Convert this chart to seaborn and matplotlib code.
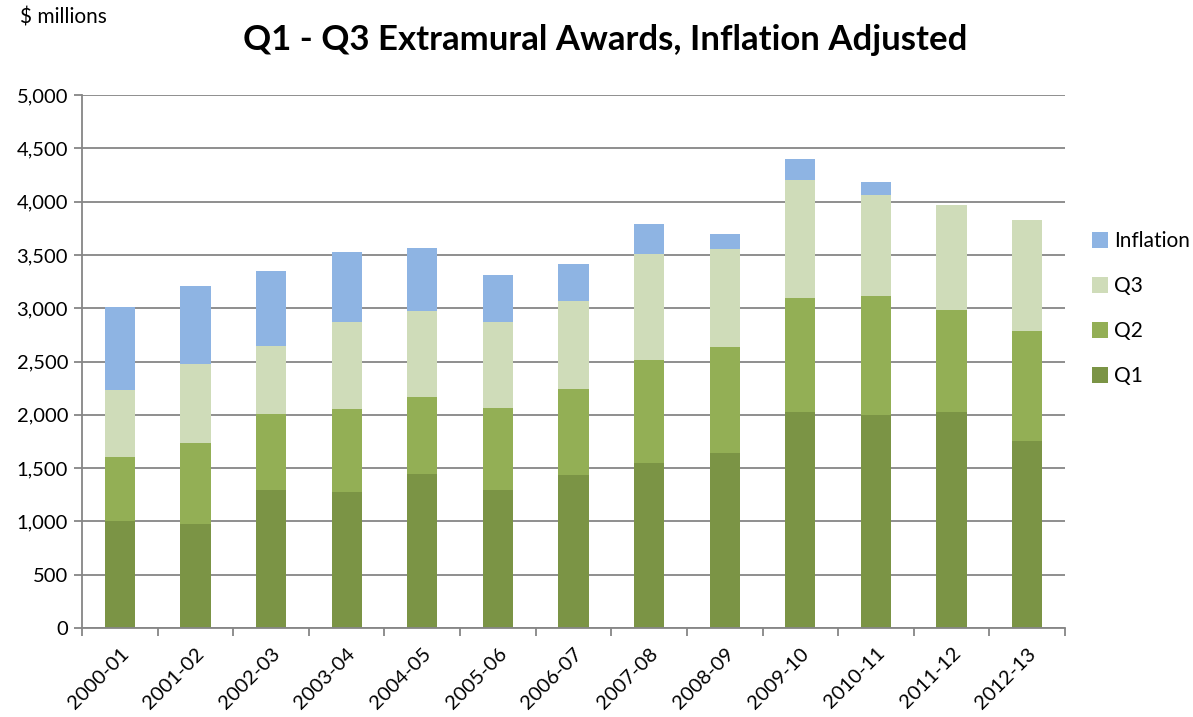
import matplotlib
matplotlib.use("Agg")
import matplotlib.pyplot as plt
import seaborn as sns
import pandas as pd
import numpy as np
from matplotlib.patches import Patch
from matplotlib.ticker import FuncFormatter, MultipleLocator

years = ["2000-01", "2001-02", "2002-03", "2003-04", "2004-05", "2005-06", "2006-07",
         "2007-08", "2008-09", "2009-10", "2010-11", "2011-12", "2012-13"]
q1 = [1000, 980, 1290, 1280, 1440, 1295, 1438, 1545, 1645, 2029, 1995, 2026, 1754]
q2 = [606, 754, 713, 776, 723, 766, 801, 969, 991, 1067, 1119, 957, 1029]
q3 = [629, 739, 645, 811, 814, 810, 825, 994, 916, 1104, 951, 982, 1048]
inflation = [773, 732, 701, 660, 588, 444, 348, 279, 144, 197, 122, 0, 0]

series_names = ["Inflation", "Q3", "Q2", "Q1"]
colors = {"Q1": "#7B9445", "Q2": "#93AF55", "Q3": "#CFDCB9", "Inflation": "#8EB4E3"}

df = pd.DataFrame({"year": years, "Q1": q1, "Q2": q2, "Q3": q3, "Inflation": inflation})
df["c_Q1"] = df["Q1"]
df["c_Q2"] = df["c_Q1"] + df["Q2"]
df["c_Q3"] = df["c_Q2"] + df["Q3"]
df["c_Inflation"] = df["c_Q3"] + df["Inflation"]

sns.set_theme(style="white")
plt.rcParams['font.family'] = ['Lato', 'DejaVu Sans']
plt.rcParams['text.color'] = 'black'
plt.rcParams['xtick.color'] = 'black'
plt.rcParams['ytick.color'] = 'black'

fig = plt.figure(figsize=(11.93, 7.17), dpi=100)
ax = fig.add_axes([82/1193, 1 - 628/717, (1065-82)/1193, (628-95)/717])

for name in series_names:
    sns.barplot(data=df, x="year", y="c_" + name, color=colors[name], ax=ax,
                width=0.40, saturation=1, linewidth=0, zorder=3)

ax.set_ylim(0, 5000)
ax.set_xlim(-0.5, len(years) - 0.5)
ax.yaxis.set_major_locator(MultipleLocator(500))
ax.yaxis.set_major_formatter(FuncFormatter(lambda v, p: f"{int(v):,}"))
ax.grid(axis="y", color="#868686", linewidth=1.3, zorder=0)
ax.set_axisbelow(True)
ax.set_xlabel("")
ax.set_ylabel("")

for s in ["top", "right"]:
    ax.spines[s].set_visible(False)
for s in ["left", "bottom"]:
    ax.spines[s].set_color("#868686")
    ax.spines[s].set_linewidth(1.3)
    ax.spines[s].set_zorder(4)

ax.tick_params(axis="y", which="major", length=6, width=1.3, color="#868686",
               direction="out", left=True, labelsize=14.5, labelcolor="black", pad=4)
ax.set_xticks(range(len(years)))
ax.set_xticklabels(years, rotation=45, ha="right", rotation_mode="anchor", fontsize=14.5,
                   color="black")
ax.tick_params(axis="x", which="major", length=0, pad=12)
ax.set_xticks(np.arange(-0.5, len(years), 1.0), minor=True)
ax.tick_params(axis="x", which="minor", length=6, width=1.3, color="#868686",
               direction="out", bottom=True)

handles = [Patch(facecolor=colors[n], edgecolor="none", label=n) for n in series_names]
fig.legend(handles=handles, loc="upper left", bbox_to_anchor=(1084/1193, 1 - 223/717),
           frameon=False, fontsize=15, handlelength=0.75, handleheight=0.75,
           handletextpad=0.3, labelspacing=1.2, borderaxespad=0, labelcolor="black")

fig.text(605/1193, 1 - 40/717, "Q1 - Q3 Extramural Awards, Inflation Adjusted",
         ha="center", va="center", fontsize=25, fontweight="bold", color="black")
fig.text(20/1193, 1 - 18/717, "$ millions", ha="left", va="center", fontsize=15,
         color="black")

fig.savefig("out.png", dpi=100)
